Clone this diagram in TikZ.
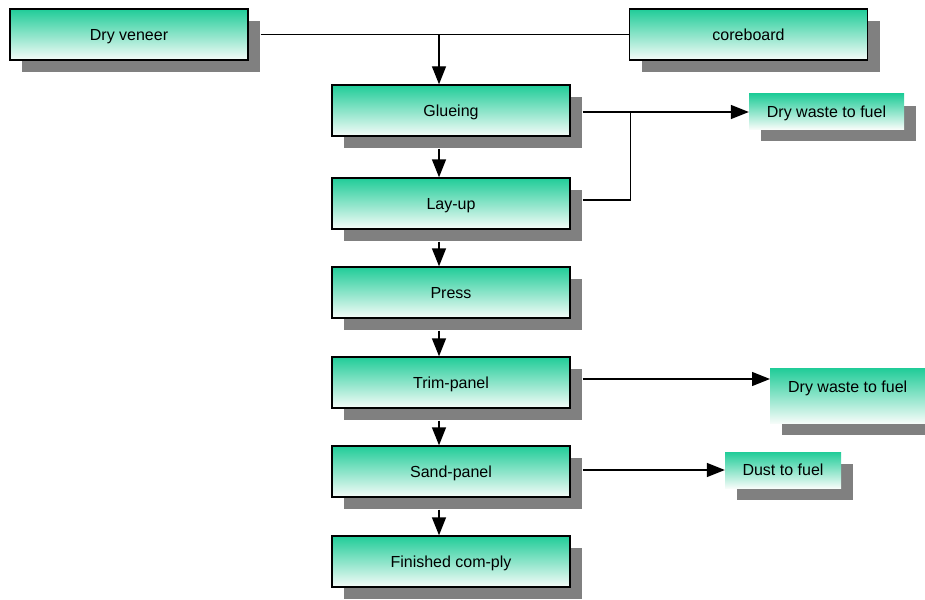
\documentclass[tikz,border=0pt]{standalone}
\usepackage{fontspec}
\setmainfont{Liberation Sans}
\definecolor{boxgreen}{RGB}{32, 204, 152}
\definecolor{boxwhite}{RGB}{246, 252, 249}
\definecolor{shadowgray}{RGB}{128, 128, 128}
\usetikzlibrary{arrows.meta, positioning, shadows}

\begin{document}
\begin{tikzpicture}[
    x=1pt, y=-1pt,
    procbox/.style={draw, line width=1.4pt, minimum width=238pt, minimum height=51pt,
                top color=boxgreen, bottom color=boxwhite, align=center,
                text height=11.5pt, text depth=0pt,
                font=\fontsize{16}{18}\selectfont,
                drop shadow={shadow xshift=12pt, shadow yshift=-12pt,
                             fill=shadowgray, opacity=1}},
    wastebox/.style={inner sep=0pt, top color=boxgreen, bottom color=boxwhite,
                text height=11.5pt, text depth=0pt,
                font=\fontsize{16}{18}\selectfont,
                drop shadow={shadow xshift=12pt, shadow yshift=-12pt,
                             fill=shadowgray, opacity=1}},
    arr/.style={-{Triangle[length=18pt, width=14pt]}, line width=1.4pt}
]
    \useasboundingbox (0,0) rectangle (925,599);

    % raw material
    \node[procbox] (veneer) at (129,34.5) {Dry veneer};
    \node[procbox] (core) at (748.5,34.5) {coreboard};

    % process column
    \node[procbox] (glue) at (451,110.5) {Glueing};
    \node[procbox, below=40.6pt of glue] (layup) {Lay-up};
    \node[procbox, below=36.6pt of layup] (press) {Press};
    \node[procbox, below=37.6pt of press] (trim) {Trim-panel};
    \node[procbox, below=36.6pt of trim] (sand) {Sand-panel};
    \node[procbox, below=37.6pt of sand] (finish) {Finished com-ply};

    % waste
    \node[wastebox, minimum width=155pt, minimum height=35pt] (waste1)
        at (826.5,111.5) {Dry waste to fuel};
    \node[wastebox, minimum width=155pt, text height=24pt, text depth=31pt,
          anchor=north west] (waste2) at (770,368) {Dry waste to fuel};
    \node[wastebox, minimum width=116pt, minimum height=36pt] (dust)
        at (783,470) {Dust to fuel};

    \draw[line width=1.4pt] ([xshift=12pt]veneer.east) -- (core.west);
    \draw[arr] ([xshift=-12pt]glue.north |- veneer.east) -- ([xshift=-12pt]glue.north);

    \foreach \a/\b in {glue/layup, layup/press, press/trim, trim/sand, sand/finish}
        \draw[arr] ([shift={(-12pt,-12pt)}]\a.south) -- ([xshift=-12pt]\b.north);

    \draw[arr] ([shift={(12pt,-1.5pt)}]glue.east) -- ([yshift=-1.5pt]glue.east -| waste1.west);
    \draw[line width=1.4pt] ([shift={(12pt,3.5pt)}]layup.east) -| ([shift={(60pt,-1.5pt)}]glue.east);
    \draw[arr] ([shift={(12pt,3.5pt)}]trim.east) -- ([yshift=3.5pt]trim.east -| waste2.west);
    \draw[arr] ([shift={(12pt,1.5pt)}]sand.east) -- ([yshift=1.5pt]sand.east -| dust.west);
\end{tikzpicture}
\end{document}
